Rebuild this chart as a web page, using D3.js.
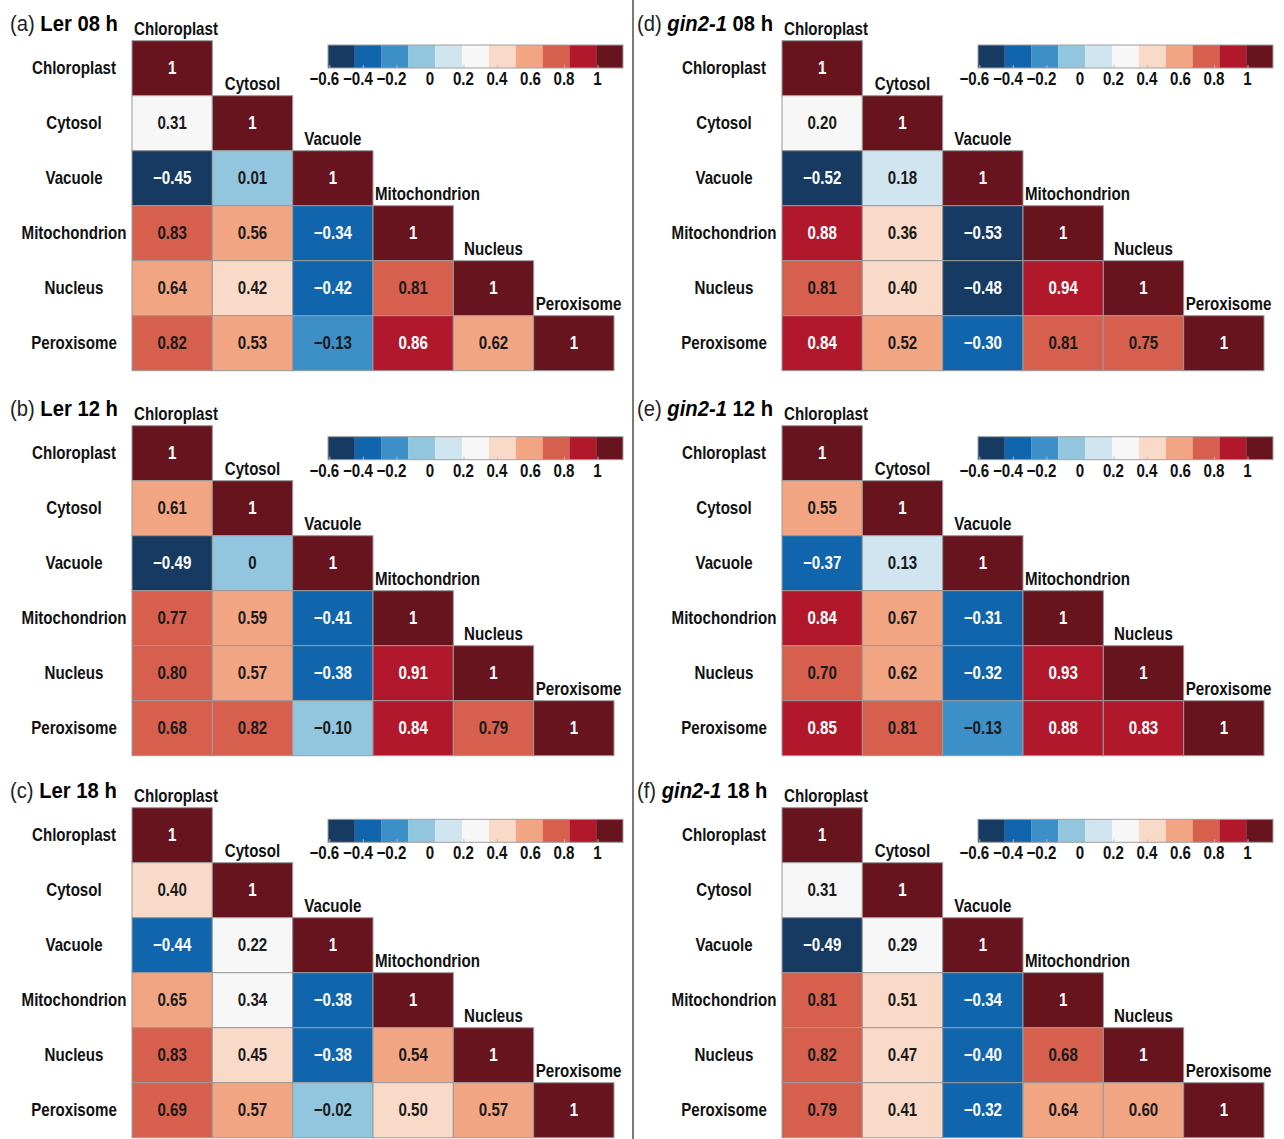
<!DOCTYPE html>
<html>
<head>
<meta charset="utf-8">
<script src="https://cdn.jsdelivr.net/npm/d3@7"></script>
<style>
  html, body { margin: 0; padding: 0; background: #fff; }
  svg { display: block; }
  text { font-family: "Liberation Sans", Arial, sans-serif; }
</style>
</head>
<body>
<svg id="fig" width="1284" height="1139"></svg>
<script>
// Subcellular compartments (rows and columns of every matrix)
const organelles = ["Chloroplast", "Cytosol", "Vacuole", "Mitochondrion", "Nucleus", "Peroxisome"];

// Panel captions
const panelTags = ["(a)", "(b)", "(c)", "(d)", "(e)", "(f)"];
const genotypes = ["Ler", "Ler", "Ler", "gin2-1", "gin2-1", "gin2-1"];
const timepoints = ["08 h", "12 h", "18 h", "08 h", "12 h", "18 h"];

// Lower-triangle correlation coefficients, row by row (diagonal = 1 is implied)
const ler08 = [[0.31], [-0.45, 0.01], [0.83, 0.56, -0.34], [0.64, 0.42, -0.42, 0.81], [0.82, 0.53, -0.13, 0.86, 0.62]];
const ler12 = [[0.61], [-0.49, 0], [0.77, 0.59, -0.41], [0.80, 0.57, -0.38, 0.91], [0.68, 0.82, -0.10, 0.84, 0.79]];
const ler18 = [[0.40], [-0.44, 0.22], [0.65, 0.34, -0.38], [0.83, 0.45, -0.38, 0.54], [0.69, 0.57, -0.02, 0.50, 0.57]];
const gin08 = [[0.20], [-0.52, 0.18], [0.88, 0.36, -0.53], [0.81, 0.40, -0.48, 0.94], [0.84, 0.52, -0.30, 0.81, 0.75]];
const gin12 = [[0.55], [-0.37, 0.13], [0.84, 0.67, -0.31], [0.70, 0.62, -0.32, 0.93], [0.85, 0.81, -0.13, 0.88, 0.834]];
const gin18 = [[0.31], [-0.49, 0.29], [0.81, 0.51, -0.34], [0.82, 0.47, -0.40, 0.68], [0.79, 0.41, -0.32, 0.64, 0.60]];
const matrices = [ler08, ler12, ler18, gin08, gin12, gin18];

// Colour-bar tick labels
const colorTicks = [-0.6, -0.4, -0.2, 0, 0.2, 0.4, 0.6, 0.8, 1];

// Diverging 11-step palette (blue = negative, red = positive)
const palette = ["#173a62", "#1065ad", "#3d8fc8", "#92c5de", "#d1e5f0", "#f7f7f7",
                 "#f9dac8", "#f2a583", "#d6604d", "#b2182b", "#67141f"];
const colorDomain = [-0.608, 1.152];
const color = d3.scaleQuantize().domain(colorDomain).range(palette);

// Layout of the two columns and three rows of panels
const columns = [
  { gridX: 132, labelX: 74, titleX: 10, barX: 328 },
  { gridX: 782, labelX: 724, titleX: 637, barX: 978 }
];
const rows = [
  { gridY: 40.7, barY: 45 },
  { gridY: 425.7, barY: 436.7 },
  { gridY: 807.7, barY: 819.3 }
];
const gridW = 482, gridH = 330, barW = 295, barH = 23;
const narrow = 0.84;

const svg = d3.select("#fig");

// separator between the Ler and gin2-1 columns
svg.append("line")
  .attr("x1", 633).attr("x2", 633).attr("y1", 0).attr("y2", 1139)
  .attr("stroke", "#7a7a7a").attr("stroke-width", 2);

function narrowText(g, x, y, str, opts = {}) {
  return g.append("text")
    .attr("transform", `translate(${x},${y}) scale(${narrow},1)`)
    .attr("text-anchor", opts.anchor || "middle")
    .attr("font-size", opts.size || 18)
    .attr("font-weight", opts.weight || "bold")
    .attr("fill", opts.fill || "#111")
    .text(str);
}

const minus = s => s.replace("-", "\u2212");
const fmtCell = v => (v === 1 || v === 0) ? String(v) : minus(d3.format(".2f")(v));
const fmtTick = v => (v === 1 || v === 0) ? String(v) : minus(d3.format(".1f")(v));

const x = d3.scaleBand().domain(organelles).range([0, gridW]);
const y = d3.scaleBand().domain(organelles).range([0, gridH]);
const barScale = d3.scaleLinear().domain(colorDomain).range([0, barW]);

matrices.forEach((mat, p) => {
  const col = columns[Math.floor(p / 3)];
  const row = rows[p % 3];
  const g = svg.append("g");

  // title
  const title = g.append("text")
    .attr("transform", `translate(${col.titleX},${row.gridY - 10}) scale(0.92,1)`)
    .attr("font-size", 22);
  title.append("tspan").attr("font-weight", "normal").attr("fill", "#222").text(panelTags[p] + " ");
  title.append("tspan").attr("font-weight", "bold")
    .attr("font-style", genotypes[p] === "Ler" ? "normal" : "italic")
    .text(genotypes[p]);
  title.append("tspan").attr("font-weight", "bold").text(" " + timepoints[p]);

  // cells of the lower triangle, diagonal included
  const cells = [];
  organelles.forEach((rName, i) => {
    organelles.forEach((cName, j) => {
      if (j > i) return;
      const v = i === j ? 1 : mat[i - 1][j];
      cells.push({ r: rName, c: cName, v });
    });
  });

  const grid = g.append("g").attr("transform", `translate(${col.gridX},${row.gridY})`);
  grid.selectAll("rect").data(cells).join("rect")
    .attr("x", d => x(d.c)).attr("y", d => y(d.r))
    .attr("width", x.bandwidth()).attr("height", y.bandwidth())
    .attr("fill", d => color(d.v))
    .attr("stroke", "#9a9a9a").attr("stroke-width", 1);

  cells.forEach(d => {
    const dark = d.v < -0.288 || d.v > 0.832;
    narrowText(grid, x(d.c) + x.bandwidth() / 2, y(d.r) + y.bandwidth() / 2 + 6, fmtCell(d.v),
      { fill: dark ? "#fff" : "#1a1a1a", size: 18 });
  });

  // row labels
  organelles.forEach(name => {
    narrowText(g, col.labelX, row.gridY + y(name) + y.bandwidth() / 2 + 6, name);
  });
  // column labels sit just above each diagonal cell; wide ones start at the cell's left edge
  organelles.forEach(name => {
    const left = col.gridX + x(name);
    const t = narrowText(g, left + x.bandwidth() / 2, row.gridY + y(name) - 6, name);
    const w = t.node().getComputedTextLength() * narrow;
    const cx = Math.max(left + x.bandwidth() / 2, left + w / 2 + 2);
    t.attr("transform", `translate(${cx},${row.gridY + y(name) - 6}) scale(${narrow},1)`);
  });

  // colour bar
  const bar = g.append("g").attr("transform", `translate(${col.barX},${row.barY})`);
  bar.selectAll("rect").data(palette).join("rect")
    .attr("x", c => barScale(color.invertExtent(c)[0]))
    .attr("width", c => barScale(color.invertExtent(c)[1]) - barScale(color.invertExtent(c)[0]))
    .attr("y", 0).attr("height", barH)
    .attr("fill", c => c);
  bar.append("rect").attr("width", barW).attr("height", barH)
    .attr("fill", "none").attr("stroke", "#a0a0a0").attr("stroke-width", 1);

  const axis = d3.axisBottom(barScale).tickValues(colorTicks).tickSizeInner(-3).tickSizeOuter(0).tickFormat(() => "");
  const ax = bar.append("g").attr("transform", `translate(0,${barH})`).call(axis);
  ax.select(".domain").remove();
  ax.selectAll(".tick line").attr("stroke", "#bbb");
  // negative labels: the digits sit under the tick, the minus sign hangs to the left
  colorTicks.forEach(t => {
    narrowText(bar, barScale(t) - (t < 0 ? 5 : 0), barH + 17, fmtTick(t), { size: 18 });
  });
});
</script>
</body>
</html>
